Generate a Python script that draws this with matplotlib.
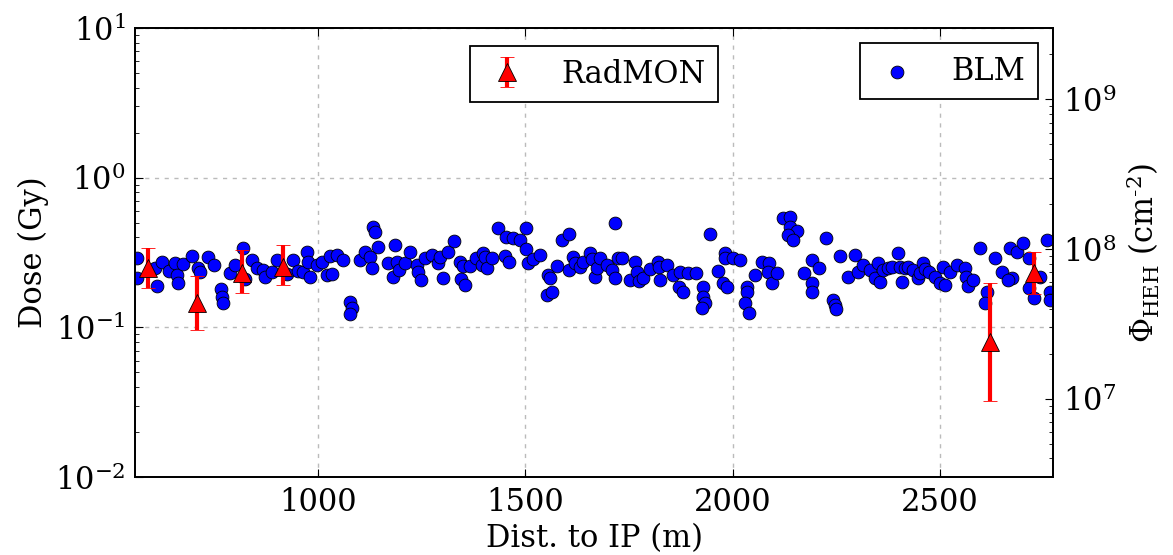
import numpy as np
import matplotlib.pyplot as plt

plt.rcParams['font.family'] = 'serif'
plt.rcParams['font.serif'] = ['DejaVu Serif']
plt.rcParams['mathtext.fontset'] = 'dejavuserif'
plt.rcParams['mathtext.default'] = 'regular'
plt.rcParams['axes.unicode_minus'] = False
plt.rcParams['font.size'] = 22

# BLM dose along the line (m, Gy)
blm_dist = [
    564, 564, 607, 612, 624, 641, 655, 660, 663, 675,
    696, 711, 716, 735, 750, 766, 769, 771, 788, 800,
    819, 824, 841, 853, 868, 873, 889, 901, 926, 940,
    952, 964, 974, 976, 981, 998, 1010, 1022, 1029, 1034,
    1046, 1061, 1078, 1082, 1078, 1102, 1114, 1126, 1131, 1133,
    1138, 1145,
    1169, 1181, 1186, 1191, 1196, 1210, 1222, 1239, 1242, 1249,
    1258, 1275, 1290, 1295, 1302, 1314, 1328, 1343, 1345, 1350,
    1355, 1367, 1381, 1396, 1398, 1403, 1408, 1420, 1434, 1451,
    1454, 1461, 1471, 1487, 1502, 1502, 1507, 1519, 1536, 1553,
    1555, 1560, 1565, 1577, 1589, 1606, 1606, 1614, 1620, 1632,
    1639, 1656, 1661, 1668, 1673, 1680, 1697, 1709, 1717, 1717,
    1724,
    1733, 1753, 1765, 1770, 1774, 1784, 1801, 1820, 1823, 1825,
    1842, 1856, 1871, 1873, 1881, 1893, 1912, 1929, 1929, 1934,
    1926, 1946, 1965, 1977, 1987, 1982, 1982, 2001, 2018, 2035,
    2035, 2030, 2040, 2054, 2071, 2088, 2086, 2095, 2107, 2122,
    2139, 2139, 2155, 2134, 2146, 2172, 2192, 2192, 2192, 2209,
    2225, 2242, 2247, 2250, 2259, 2278, 2295, 2303,
    2315, 2332, 2344, 2351, 2356, 2363, 2375, 2385, 2399, 2404,
    2409, 2416, 2423, 2435, 2447, 2452, 2459, 2464, 2474, 2488,
    2500, 2507, 2512, 2524, 2541, 2561, 2563, 2566, 2580, 2597,
    2614, 2609, 2633, 2650, 2669, 2674, 2664, 2686, 2700, 2713,
    2713, 2725, 2741, 2758, 2765, 2765,
]
blm_dose = [
    0.292, 0.215, 0.250, 0.190, 0.275, 0.239, 0.271, 0.225, 0.199, 0.267,
    0.301, 0.250, 0.236, 0.297, 0.262, 0.181, 0.160, 0.146, 0.232, 0.262,
    0.341, 0.211, 0.283, 0.250, 0.243, 0.218, 0.236, 0.283, 0.228, 0.283,
    0.239, 0.236, 0.320, 0.275, 0.218, 0.262, 0.275, 0.225, 0.301, 0.228,
    0.306, 0.283, 0.148, 0.135, 0.122, 0.283, 0.320, 0.297, 0.250, 0.471,
    0.436, 0.346,
    0.271, 0.218, 0.357, 0.275, 0.243, 0.271, 0.320, 0.262, 0.236, 0.208,
    0.292, 0.306, 0.271, 0.297, 0.215, 0.320, 0.379, 0.275, 0.211, 0.258,
    0.193, 0.258, 0.292, 0.262, 0.315, 0.297, 0.250, 0.292, 0.463, 0.301,
    0.404, 0.275, 0.397, 0.385, 0.463, 0.336, 0.271, 0.288, 0.306, 0.165,
    0.225, 0.215, 0.171, 0.258, 0.385, 0.423, 0.243, 0.297, 0.271, 0.254,
    0.275, 0.315, 0.288, 0.218, 0.250, 0.292, 0.262, 0.243, 0.215, 0.500,
    0.292,
    0.292, 0.208, 0.275, 0.236, 0.205, 0.215, 0.247, 0.275, 0.254, 0.208,
    0.262, 0.225, 0.187, 0.236, 0.171, 0.232, 0.232, 0.187, 0.160, 0.146,
    0.135, 0.423, 0.239, 0.199, 0.187, 0.315, 0.292, 0.292, 0.283, 0.187,
    0.173, 0.146, 0.125, 0.225, 0.275, 0.271, 0.236, 0.199, 0.232, 0.541,
    0.549, 0.471, 0.443, 0.416, 0.385, 0.232, 0.283, 0.199, 0.171, 0.250,
    0.397, 0.153, 0.142, 0.133, 0.301, 0.218, 0.306, 0.236,
    0.262, 0.243, 0.215, 0.271, 0.202, 0.243, 0.250, 0.254, 0.315, 0.254,
    0.202, 0.250, 0.254, 0.243, 0.215, 0.232, 0.271, 0.247, 0.236, 0.218,
    0.199, 0.254, 0.193, 0.236, 0.262, 0.250, 0.218, 0.190, 0.208, 0.341,
    0.173, 0.146, 0.292, 0.236, 0.341, 0.215, 0.208, 0.320, 0.368, 0.292,
    0.184, 0.158, 0.218, 0.385, 0.171, 0.153,
]

# RadMON measurements with lower / upper bounds (Gy)
radmon_dist = [590, 709, 817, 916, 2621, 2725]
radmon_dose = [0.250, 0.146, 0.232, 0.254, 0.080, 0.232]
radmon_low = [0.184, 0.096, 0.170, 0.193, 0.032, 0.166]
radmon_high = [0.340, 0.222, 0.330, 0.356, 0.199, 0.320]

heh_per_gy = 3.0e8  # conversion for the right axis

radmon_dose = np.array(radmon_dose)
yerr = [radmon_dose - np.array(radmon_low), np.array(radmon_high) - radmon_dose]

fig = plt.figure(figsize=(11.73, 5.55), dpi=100)
ax = fig.add_axes([0.1151, 0.1405, 0.7826, 0.8090])

sc = ax.scatter(blm_dist, blm_dose, s=85, c='blue', edgecolors='black',
                linewidths=0.6, zorder=2)
eb = ax.errorbar(radmon_dist, radmon_dose, yerr=yerr, fmt='^', color='red',
                 ms=13, mec='black', mew=0.6, elinewidth=3, capsize=5,
                 capthick=3.5, zorder=3)

ax.set_yscale('log')
ax.set_ylim(1e-2, 1e1)
ax.set_xlim(559, 2772)
ax.set_xticks([1000, 1500, 2000, 2500])
ax.set_axisbelow(True)
ax.grid(True, which='major', ls=(0, (3, 4)), color='#bbbbbb', lw=1)
ax.tick_params(which='both', direction='in', top=True, right=False)
ax.tick_params(which='major', length=6, pad=7)
ax.tick_params(which='minor', length=3)
ax.set_xlabel('Dist. to IP (m)')
ax.set_ylabel('Dose (Gy)')

ax2 = ax.twinx()
ax2.set_yscale('log')
ax2.set_ylim(1e-2 * heh_per_gy, 1e1 * heh_per_gy)
ax2.tick_params(which='both', direction='in')
ax2.tick_params(which='major', length=6, pad=7)
ax2.tick_params(which='minor', length=3)
ax2.set_ylabel(r'$\Phi_{\mathrm{HEH}}$ (cm$^{\text{-2}}$)', labelpad=6)

for a in (ax, ax2):
    for s in a.spines.values():
        s.set_linewidth(1.3)

leg_kw = dict(fancybox=False, edgecolor='black', framealpha=1,
              handlelength=1.6, handletextpad=1.0)
leg1 = ax2.legend([eb], ['RadMON'], loc='upper center', numpoints=1,
                  borderaxespad=0.6, **leg_kw)
leg1.get_frame().set_linewidth(1.3)
ax2.add_artist(leg1)
leg2 = ax2.legend([sc], ['BLM'], loc='upper right', scatterpoints=1,
                  borderaxespad=0.5, **leg_kw)
leg2.get_frame().set_linewidth(1.3)

fig.savefig('out.png', dpi=100)
